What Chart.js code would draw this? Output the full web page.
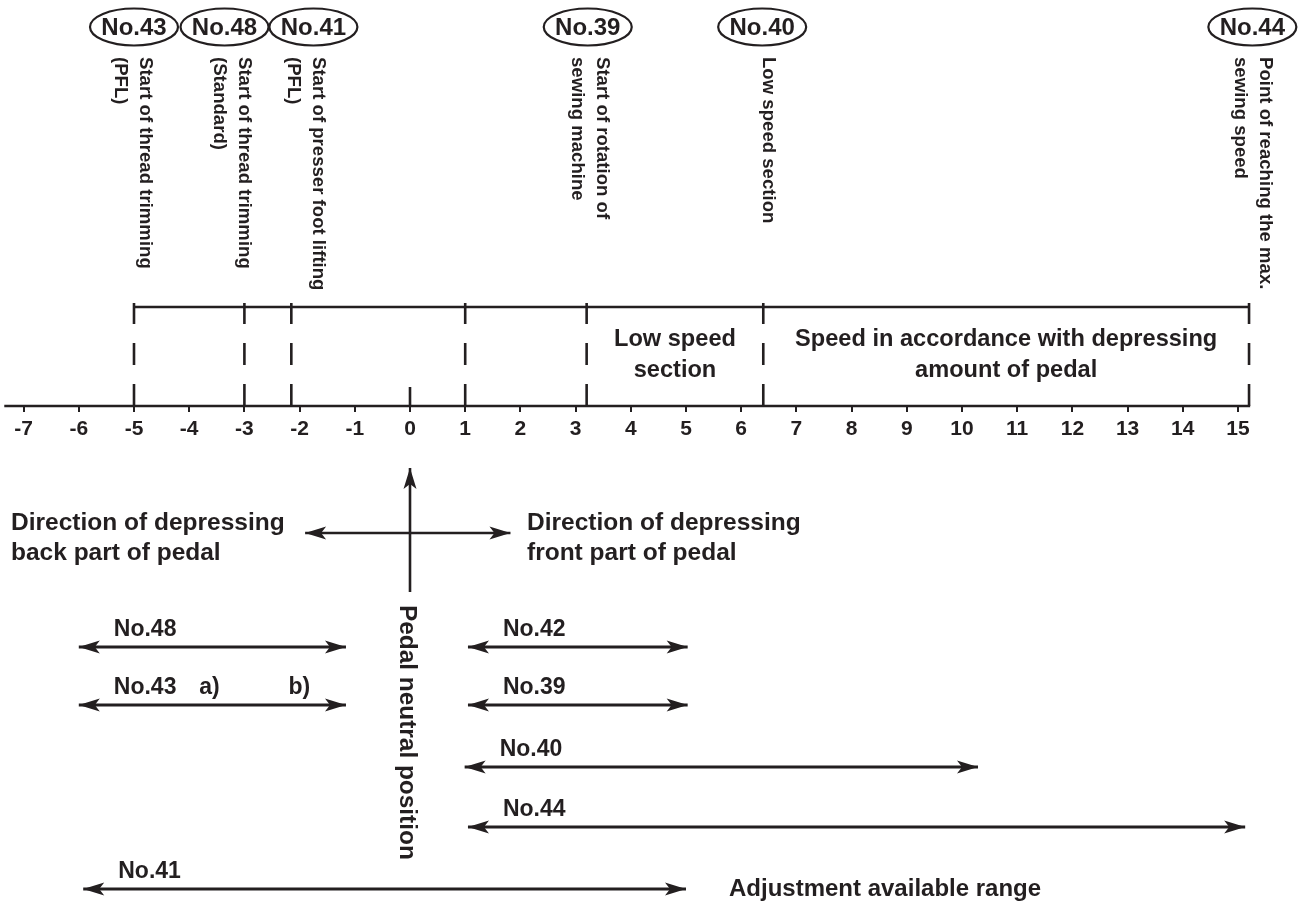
<!DOCTYPE html>
<html><head><meta charset="utf-8">
<script src="https://cdn.jsdelivr.net/npm/chart.js@4.4.1/dist/chart.umd.min.js"></script>
<style>html,body{margin:0;padding:0;background:#fff;}canvas{display:block;}</style>
</head><body>
<canvas id="c" width="1304" height="902"></canvas>
<script>
// ---------------- data ----------------
const tickValues = [-7,-6,-5,-4,-3,-2,-1,0,1,2,3,4,5,6,7,8,9,10,11,12,13,14,15];
const axisRange = [-7.35, 15.22];
const markerValues = [-5, -3, -2.15, 1, 3.2, 6.4, 15.2];
const bracketRange = [-5, 15.2];
const neutralValue = 0;
const sectionText = [['Low speed','section'], ['Speed in accordance with depressing','amount of pedal']];
const sectionFrom = [3.2, 6.4];
const sectionTo = [6.4, 15.2];
const paramNames = ['No.43','No.48','No.41','No.39','No.40','No.44'];
const paramBadgeX = [-5.0, -3.36, -1.75, 3.22, 6.38, 15.26];
const paramTextX = [-4.8, -3.0, -1.67, 3.48, 6.49, 15.49];
const paramTexts = [
  ['Start of thread trimming','(PFL)'],
  ['Start of thread trimming','(Standard)'],
  ['Start of presser foot lifting','(PFL)'],
  ['Start of rotation of','sewing machine'],
  ['Low speed section'],
  ['Point of reaching the max.','sewing speed']
];
const rangeNames = ['No.48','No.43','No.42','No.39','No.40','No.44','No.41'];
const rangeRow  = [0, 1, 0, 1, 2, 3, 4];
const rangeFrom = [-6.0, -6.0, 1.05, 1.05, 0.99, 1.05, -5.92];
const rangeTo   = [-1.16, -1.16, 5.03, 5.03, 10.29, 15.13, 5.0];
const directionRange = [-1.9, 1.82];
const directionText = [['Direction of depressing','back part of pedal'], ['Direction of depressing','front part of pedal']];
const subMarks = ['a)', 'b)'];
const subMarkX = [-3.82, -2.2];

// ---------------- layout (pixels) ----------------
const W = 1304, H = 902;
const X0PX = 410, UNIT = 55.2;
const XMIN = -X0PX / UNIT, XMAX = (W - X0PX) / UNIT;
const INK = '#231f20';
const FONT = "'Liberation Sans', Arial, Helvetica, sans-serif";
const TOP_Y = 307, AXIS_Y = 406, DASH_TOP = 303, ZERO_TOP = 387;
const SECTION_Y = [339, 370];
const BADGE_Y = 27, VTEXT_Y = 57;
const DIR_Y = 533, DIR_TEXT_Y = [523, 553], DIR_TEXT_X = [11, 527];
const VARROW = [592, 468], PEDAL_TEXT_Y = 605;
const ROW_Y = [647, 705, 767, 827, 889];
const ADJ = {text:'Adjustment available range', x:729, y:889};

const seg = (x1,y1,x2,y2) => [{x:x1,y:y1},{x:x2,y:y2}];
const datasets = [];
const base = {borderColor: INK, pointRadius: 0, borderWidth: 2.6, fill: false, showLine: true, borderCapStyle:'butt'};
datasets.push({...base, data: seg(axisRange[0], AXIS_Y, axisRange[1], AXIS_Y)});
datasets.push({...base, data: seg(bracketRange[0], TOP_Y, bracketRange[1], TOP_Y)});
markerValues.forEach(v => datasets.push({...base, borderDash:[22,19], data: seg(v, AXIS_Y, v, DASH_TOP)}));
datasets.push({...base, data: seg(neutralValue, AXIS_Y, neutralValue, ZERO_TOP)});
datasets.push({...base, arrows:'both', data: seg(directionRange[0], DIR_Y, directionRange[1], DIR_Y)});
datasets.push({...base, arrows:'end', data: seg(neutralValue, VARROW[0], neutralValue, VARROW[1])});
rangeNames.forEach((n,i) => datasets.push({...base, borderWidth: 3, arrows:'both', label:n, row:rangeRow[i],
  data: seg(rangeFrom[i], ROW_Y[rangeRow[i]], rangeTo[i], ROW_Y[rangeRow[i]])}));

function arrowHead(ctx, tx, ty, dx, dy) {
  const L = 21, Wd = 6.5, N = 16;
  const px = -dy, py = dx;
  const bx = tx - dx*L, by = ty - dy*L;
  ctx.beginPath();
  ctx.moveTo(tx, ty);
  ctx.lineTo(bx + px*Wd, by + py*Wd);
  ctx.lineTo(tx - dx*N, ty - dy*N);
  ctx.lineTo(bx - px*Wd, by - py*Wd);
  ctx.closePath();
  ctx.fill();
}

const deco = {
  id: 'deco',
  afterDatasetsDraw(chart) {
    const ctx = chart.ctx, xs = chart.scales.x;
    const px = v => xs.getPixelForValue(v);
    ctx.save();
    ctx.fillStyle = INK; ctx.strokeStyle = INK;
    // arrowheads + range labels
    chart.data.datasets.forEach((ds, i) => {
      if (!ds.arrows) return;
      const pts = chart.getDatasetMeta(i).data;
      const a = pts[0], b = pts[1];
      let dx = b.x - a.x, dy = b.y - a.y; const len = Math.hypot(dx, dy); dx /= len; dy /= len;
      arrowHead(ctx, b.x, b.y, dx, dy);
      if (ds.arrows === 'both') arrowHead(ctx, a.x, a.y, -dx, -dy);
      if (ds.label) {
        ctx.font = `bold 23px ${FONT}`; ctx.textAlign = 'left'; ctx.textBaseline = 'alphabetic';
        ctx.fillText(ds.label, a.x + 35, a.y - 11);
        if (ds.label === 'No.43') subMarks.forEach((s, k) => ctx.fillText(s, px(subMarkX[k]), a.y - 11));
      }
    });
    // badges + vertical descriptions
    paramNames.forEach((n, i) => {
      const cx = px(paramBadgeX[i]);
      ctx.beginPath(); ctx.lineWidth = 2.2;
      ctx.ellipse(cx, BADGE_Y, 44, 18.5, 0, 0, Math.PI*2); ctx.stroke();
      ctx.font = `bold 24px ${FONT}`; ctx.textAlign = 'center'; ctx.textBaseline = 'middle';
      ctx.fillText(n, cx, BADGE_Y + 1);
      ctx.save();
      ctx.translate(px(paramTextX[i]), VTEXT_Y);
      ctx.rotate(Math.PI/2);
      ctx.font = `bold 18.6px ${FONT}`; ctx.textAlign = 'left'; ctx.textBaseline = 'middle';
      paramTexts[i].forEach((t, k) => ctx.fillText(t, 0, k*25));
      ctx.restore();
    });
    // section texts
    ctx.font = `bold 23.6px ${FONT}`; ctx.textAlign = 'center'; ctx.textBaseline = 'middle';
    sectionText.forEach((lines, i) => {
      const cx = (px(sectionFrom[i]) + px(sectionTo[i])) / 2;
      lines.forEach((t, k) => ctx.fillText(t, cx, SECTION_Y[k]));
    });
    // direction texts
    ctx.font = `bold 24.5px ${FONT}`; ctx.textAlign = 'left';
    directionText.forEach((lines, i) => lines.forEach((t, k) => ctx.fillText(t, DIR_TEXT_X[i], DIR_TEXT_Y[k])));
    // pedal neutral position
    ctx.save();
    ctx.translate(px(neutralValue) - 3, PEDAL_TEXT_Y);
    ctx.rotate(Math.PI/2);
    ctx.font = `bold 24.4px ${FONT}`; ctx.textAlign = 'left'; ctx.textBaseline = 'middle';
    ctx.fillText('Pedal neutral position', 0, 0);
    ctx.restore();
    // adjustment note
    ctx.font = `bold 24px ${FONT}`; ctx.textAlign = 'left'; ctx.textBaseline = 'middle';
    ctx.fillText(ADJ.text, ADJ.x, ADJ.y);
    ctx.restore();
  }
};

new Chart(document.getElementById('c'), {
  type: 'line',
  data: { datasets },
  options: {
    responsive: false, animation: false, devicePixelRatio: 1,
    layout: { padding: 0 },
    plugins: { legend: { display: false }, tooltip: { enabled: false } },
    elements: { line: { tension: 0 } },
    scales: {
      x: {
        type: 'linear', min: XMIN, max: XMAX, position: { y: AXIS_Y },
        afterFit(s) { s.height = 0; },
        afterBuildTicks(s) { s.ticks = tickValues.map(v => ({ value: v })); },
        grid: { drawOnChartArea: false, drawTicks: true, tickLength: 6, color: INK, lineWidth: 2 },
        border: { display: false },
        ticks: { autoSkip: false, maxRotation: 0, padding: 5, color: INK,
                 font: { family: FONT, size: 21, weight: 'bold' }, callback: v => String(v) }
      },
      y: { type: 'linear', min: 0, max: H, reverse: true, display: false }
    }
  },
  plugins: [deco]
});
</script>
</body></html>
